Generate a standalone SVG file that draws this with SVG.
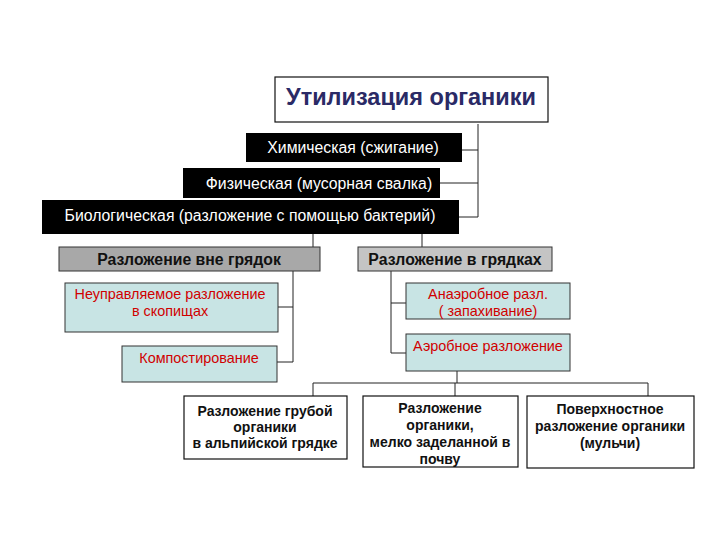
<svg xmlns="http://www.w3.org/2000/svg" width="720" height="540" viewBox="0 0 720 540">
<style>
text{font-family:"Liberation Sans",Arial,sans-serif;text-anchor:middle}
.blk rect{fill:#000}
.blk text{fill:#fff;font-size:15.8px}
.gray rect{stroke:#333;stroke-width:1}
.gray text{font-size:15.8px;font-weight:bold;fill:#111}
.teal rect{fill:#c8e4e4;stroke:#333;stroke-width:1}
.teal text{font-size:14.4px;fill:#d00000}
.wht rect{fill:#fff;stroke:#111;stroke-width:1.2}
.wht text{font-size:14px;font-weight:bold;fill:#111}
#connectors path{fill:none;stroke:#222;stroke-width:1}
</style>
<rect width="720" height="540" fill="#fff"/>
<g id="connectors">
<path d="M478,124 V217 M462,150 H478 M440,183 H478 M459,217 H478"/>
<path d="M313,234 V247 M422,234 V247"/>
<path d="M293,271 V362 M278,307 H293 M277,362 H293"/>
<path d="M391,271 V353 M391,303 H406 M391,353 H406"/>
<path d="M457,371 V383 M313,383 H648 M313,383 V396 M455,383 V396 M648,383 V396"/>
</g>
<g id="title" class="wht">
<rect x="275" y="77" width="273" height="45" fill="#fff" stroke="#111"/>
<text x="411" y="105" style="font-size:23.5px;font-weight:bold;fill:#2a2a66">Утилизация органики</text>
</g>
<g id="chem" class="blk"><rect x="246" y="133" width="216" height="29"/><text x="353" y="153">Химическая (сжигание)</text></g>
<g id="phys" class="blk"><rect x="183" y="168" width="257" height="30"/><text x="319" y="189">Физическая (мусорная свалка)</text></g>
<g id="bio" class="blk"><rect x="42" y="200" width="417" height="34"/><text x="250" y="221">Биологическая (разложение с помощью бактерий)</text></g>
<g id="outside" class="gray"><rect x="59" y="247" width="261" height="24" fill="#a8a8a8"/><text x="189" y="265">Разложение вне грядок</text></g>
<g id="inside" class="gray"><rect x="358" y="247" width="194" height="24" fill="#c4c4c4"/><text x="455" y="265">Разложение в грядках</text></g>
<g id="heaps" class="teal"><rect x="65" y="283" width="213" height="49"/><text x="170" y="299">Неуправляемое разложение</text><text x="170" y="316">в скопищах</text></g>
<g id="compost" class="teal"><rect x="122" y="346" width="155" height="36"/><text x="199" y="363">Компостирование</text></g>
<g id="anaerobic" class="teal"><rect x="406" y="283" width="164" height="36"/><text x="488" y="299">Анаэробное разл.</text><text x="488" y="316">( запахивание)</text></g>
<g id="aerobic" class="teal"><rect x="406" y="334" width="164" height="37"/><text x="488" y="351">Аэробное разложение</text></g>
<g id="alpine" class="wht"><rect x="184" y="396" width="163" height="63"/><text x="265" y="416">Разложение грубой</text><text x="265" y="432">органики</text><text x="265" y="448">в альпийской грядке</text></g>
<g id="shallow" class="wht"><rect x="363" y="396" width="155" height="71"/><text x="440" y="413">Разложение</text><text x="440" y="430">органики,</text><text x="440" y="447">мелко заделанной в</text><text x="440" y="464">почву</text></g>
<g id="mulch" class="wht"><rect x="527" y="396" width="167" height="72"/><text x="610" y="414">Поверхностное</text><text x="610" y="431">разложение органики</text><text x="610" y="448">(мульчи)</text></g>
</svg>
